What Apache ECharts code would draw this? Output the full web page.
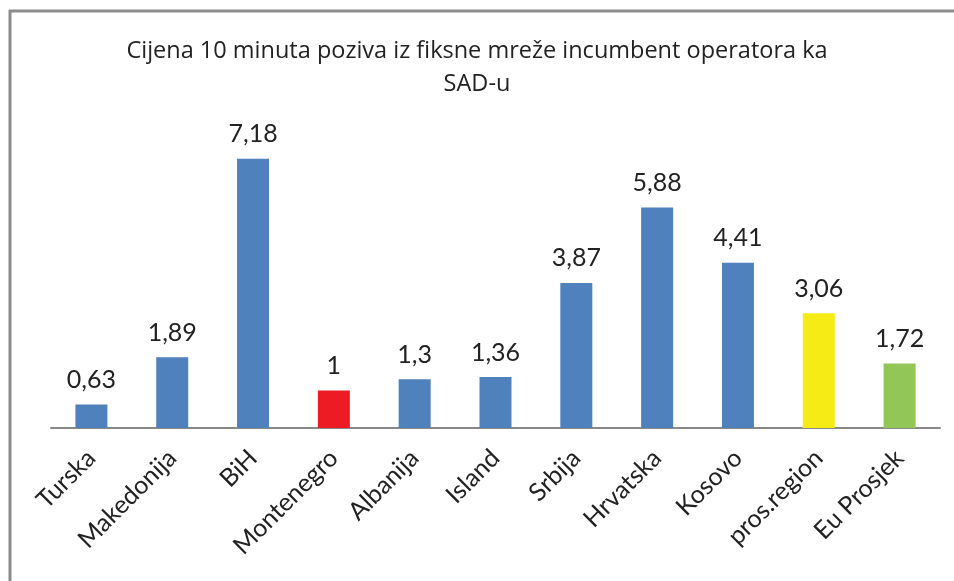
<!DOCTYPE html>
<html>
<head>
<meta charset="utf-8">
<script src="https://cdn.jsdelivr.net/npm/echarts@6/dist/echarts.min.js"></script>
<style>
  html, body { margin: 0; padding: 0; background: #fff; overflow: hidden; }
  #main { width: 954px; height: 581px; }
</style>
</head>
<body>
<div id="main"></div>
<script>
var categories = ['Turska', 'Makedonija', 'BiH', 'Montenegro', 'Albanija', 'Island',
    'Srbija', 'Hrvatska', 'Kosovo', 'pros.region', 'Eu Prosjek'];
var values = [0.63, 1.89, 7.18, 1, 1.3, 1.36, 3.87, 5.88, 4.41, 3.06, 1.72];
var barColors = ['#4f81bd', '#4f81bd', '#4f81bd', '#ed1c24', '#4f81bd', '#4f81bd',
    '#4f81bd', '#4f81bd', '#4f81bd', '#f7eb16', '#92c656'];

var chart = echarts.init(document.getElementById('main'));

var option = {
    backgroundColor: '#fff',
    title: {
        text: 'Cijena 10 minuta poziva iz fiksne mreže incumbent operatora ka\nSAD-u',
        left: 'center',
        top: 30,
        textStyle: {
            fontFamily: 'Open Sans',
            fontWeight: 'normal',
            fontSize: 23.5,
            lineHeight: 33,
            color: '#222'
        }
    },
    graphic: [{
        type: 'line',
        shape: { x1: 10, y1: 581, x2: 10, y2: 10 },
        style: { stroke: '#8c8c8c', lineWidth: 3 },
        silent: true
    }, {
        type: 'line',
        shape: { x1: 9, y1: 11, x2: 954, y2: 11 },
        style: { stroke: '#8c8c8c', lineWidth: 3 },
        silent: true
    }],
    grid: {
        left: 51,
        right: 14,
        top: 128,
        bottom: 153
    },
    xAxis: {
        type: 'category',
        data: categories,
        axisLine: { lineStyle: { color: '#898989', width: 2 } },
        axisTick: { show: false },
        axisLabel: {
            rotate: 45,
            margin: 26,
            interval: 0,
            fontFamily: 'Lato',
            fontSize: 25,
            color: '#222'
        }
    },
    yAxis: {
        type: 'value',
        min: 0,
        max: 8,
        show: false,
        splitLine: { show: false }
    },
    series: [{
        type: 'bar',
        barWidth: 32,
        data: values.map(function (v, i) {
            return { value: v, itemStyle: { color: barColors[i] } };
        }),
        label: {
            show: true,
            position: 'top',
            distance: 12,
            fontFamily: 'Lato',
            fontSize: 25,
            color: '#222',
            formatter: function (p) {
                return String(p.value).replace('.', ',');
            }
        }
    }]
};

chart.setOption(option);
</script>
</body>
</html>
